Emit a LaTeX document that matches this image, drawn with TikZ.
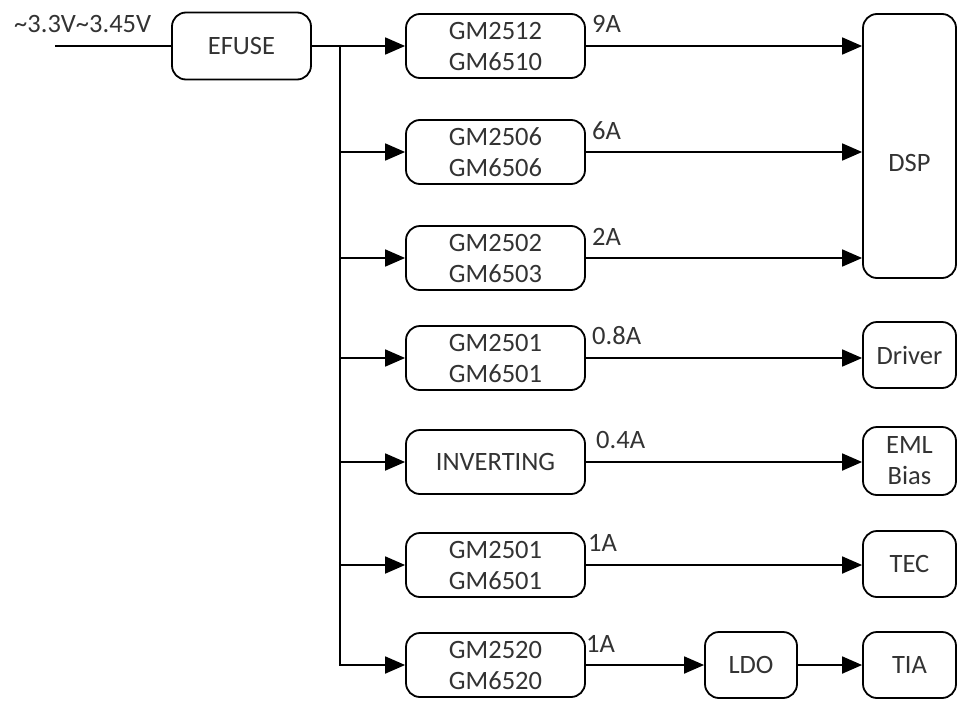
\documentclass[tikz,border=0pt]{standalone}
\usepackage{fontspec}
\setmainfont{Carlito}
\usetikzlibrary{arrows.meta,calc}
\definecolor{txt}{HTML}{333333}
\begin{document}
\begin{tikzpicture}[x=1pt,y=-1pt,
  box/.style={draw, line width=1.8pt, rounded corners=14pt, align=center,
    text=txt, font=\fontsize{26.5}{31}\selectfont, inner sep=0pt},
  gmbox/.style={box, minimum width=179pt, minimum height=64pt},
  rbox/.style={box, minimum width=93pt, minimum height=66pt},
  lbl/.style={anchor=base west, text=txt, font=\fontsize{26.5}{31}\selectfont, inner sep=0pt},
  wire/.style={line width=1.8pt},
  arr/.style={wire, -{Triangle[length=20pt,width=17pt]}}]
\useasboundingbox (0,0) rectangle (966,707);
% input
\coordinate (in) at (55,46);
\node[lbl] (vin) at (14,32) {\textasciitilde 3.3V\textasciitilde 3.45V};
\node[box, minimum width=139pt, minimum height=67pt] (efuse) at (241.5,46) {EFUSE};
% converters
\node[gmbox] (g1) at (495.5,46) {GM2512\\GM6510};
\node[gmbox] (g2) at (495.5,152) {GM2506\\GM6506};
\node[gmbox] (g3) at (495.5,258) {GM2502\\GM6503};
\node[gmbox] (g4) at (495.5,358) {GM2501\\GM6501};
\node[gmbox] (g5) at (495.5,462) {INVERTING};
\node[gmbox] (g6) at (495.5,565) {GM2501\\GM6501};
\node[gmbox] (g7) at (495.5,665) {GM2520\\GM6520};
% loads
\node[box, minimum width=93pt, minimum height=264pt] (dsp) at (909.5,146) {\raisebox{-52pt}{DSP}};
\node[rbox] (drv) at (909.5,355) {Driver};
\node[rbox, minimum height=68pt] (eml) at (909.5,461) {EML\\Bias};
\node[rbox] (tec) at (909.5,564) {TEC};
\node[box, minimum width=92pt, minimum height=66pt] (ldo) at (751,665) {LDO};
\node[rbox] (tia) at (909.5,665) {TIA};
% labels
\node[lbl] (a1) at (592,32) {9A};
\node[lbl] (a2) at (592,139) {6A};
\node[lbl] (a3) at (592,245) {2A};
\node[lbl] (a4) at (592,344) {0.8A};
\node[lbl] (a5) at (596,448) {0.4A};
\node[lbl] (a6) at (588,551) {1A};
\node[lbl] (a7) at (586,652) {1A};
% wiring
\coordinate (j) at (340,46);
\draw[wire] (in) -- (efuse.west);
\draw[arr] (efuse.east) -- (g1.west);
\draw[wire] (j) -- (340,665);
\foreach \g in {g2,g3,g4,g5,g6,g7}
  \draw[arr] (j) |- (\g.west);
\draw[arr] (g1.east) -- (g1.east -| dsp.west);
\draw[arr] (g2.east) -- (g2.east -| dsp.west);
\draw[arr] (g3.east) -- (g3.east -| dsp.west);
\draw[arr] (g4.east) -- (g4.east -| drv.west);
\draw[arr] (g5.east) -- (g5.east -| eml.west);
\draw[arr] (g6.east) -- (g6.east -| tec.west);
\draw[arr] (g7.east) -- (ldo.west);
\draw[arr] (ldo.east) -- (tia.west);
\end{tikzpicture}
\end{document}
